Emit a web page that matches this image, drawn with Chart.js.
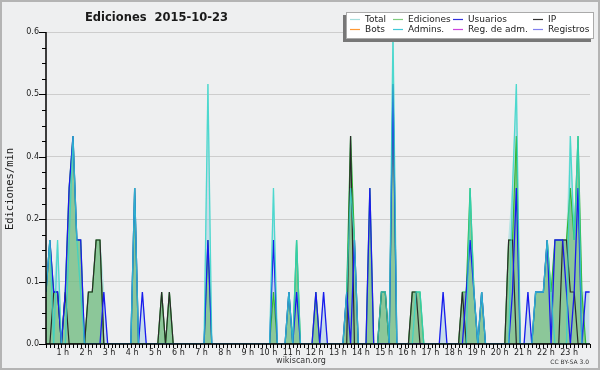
<!DOCTYPE html>
<html>
<head>
<meta charset="utf-8">
<title>Ediciones 2015-10-23</title>
<script src="https://cdn.jsdelivr.net/npm/chart.js"></script>
<style>
  html, body { margin: 0; padding: 0; background: #fff; }
  #chart { display: block; }
</style>
</head>
<body>
<canvas id="chart" width="600" height="370"></canvas>
<script>
// one value per 10 minute bin, edits per minute (bins 00:00 .. 23:30)
const total = [
  0.1, 0.2, 0.1, 0.2, 0, 0.1, 0.3, 0.4, 0.2, 0.2, 0, 0.1,
  0.1, 0.2, 0.2, 0.1, 0, 0, 0, 0, 0, 0, 0, 0.3,
  0, 0.1, 0, 0, 0, 0, 0.1, 0, 0.1, 0, 0, 0,
  0, 0, 0, 0, 0, 0, 0.5, 0, 0, 0, 0, 0,
  0, 0, 0, 0, 0, 0, 0, 0, 0, 0, 0, 0.3,
  0, 0, 0, 0.1, 0, 0.2, 0, 0, 0, 0, 0.1, 0,
  0.1, 0, 0, 0, 0, 0, 0.1, 0.4, 0.2, 0, 0, 0,
  0.3, 0, 0, 0.1, 0.1, 0, 0.6, 0, 0, 0, 0, 0.1,
  0.1, 0.1, 0, 0, 0, 0, 0, 0.1, 0, 0, 0, 0,
  0.1, 0.1, 0.3, 0.1, 0, 0.1, 0, 0, 0, 0, 0, 0,
  0.2, 0.3, 0.5, 0, 0, 0.1, 0, 0.1, 0.1, 0.1, 0.2, 0.1,
  0.2, 0.2, 0.2, 0.2, 0.4, 0.2, 0.4, 0.1, 0.1, 0.1
];
const ediciones = [
  0.1, 0.2, 0.1, 0.1, 0, 0.1, 0.3, 0.4, 0.2, 0.2, 0, 0.1,
  0.1, 0.2, 0.2, 0, 0, 0, 0, 0, 0, 0, 0, 0.3,
  0, 0, 0, 0, 0, 0, 0.1, 0, 0.1, 0, 0, 0,
  0, 0, 0, 0, 0, 0, 0.2, 0, 0, 0, 0, 0,
  0, 0, 0, 0, 0, 0, 0, 0, 0, 0, 0, 0.1,
  0, 0, 0, 0.1, 0, 0.2, 0, 0, 0, 0, 0.1, 0,
  0, 0, 0, 0, 0, 0, 0.1, 0.4, 0.2, 0, 0, 0,
  0.3, 0, 0, 0.1, 0.1, 0, 0.5, 0, 0, 0, 0, 0.1,
  0.1, 0.1, 0, 0, 0, 0, 0, 0, 0, 0, 0, 0,
  0.1, 0.1, 0.3, 0.1, 0, 0.1, 0, 0, 0, 0, 0, 0,
  0.2, 0.2, 0.4, 0, 0, 0, 0, 0.1, 0.1, 0.1, 0.2, 0.1,
  0.2, 0.2, 0.2, 0.2, 0.3, 0.2, 0.4, 0.1, 0, 0
];
const usuarios = [
  0.1, 0.2, 0.1, 0.1, 0, 0.1, 0.3, 0.4, 0.2, 0.2, 0, 0,
  0, 0, 0, 0.1, 0, 0, 0, 0, 0, 0, 0, 0.3,
  0, 0.1, 0, 0, 0, 0, 0, 0, 0, 0, 0, 0,
  0, 0, 0, 0, 0, 0, 0.2, 0, 0, 0, 0, 0,
  0, 0, 0, 0, 0, 0, 0, 0, 0, 0, 0, 0.2,
  0, 0, 0, 0.1, 0, 0.1, 0, 0, 0, 0, 0.1, 0,
  0.1, 0, 0, 0, 0, 0, 0.1, 0, 0.2, 0, 0, 0,
  0.3, 0, 0, 0, 0, 0, 0.5, 0, 0, 0, 0, 0,
  0, 0, 0, 0, 0, 0, 0, 0.1, 0, 0, 0, 0,
  0, 0.1, 0.2, 0.1, 0, 0.1, 0, 0, 0, 0, 0, 0,
  0, 0.1, 0.3, 0, 0, 0.1, 0, 0.1, 0.1, 0.1, 0.2, 0,
  0.2, 0.2, 0.2, 0.1, 0, 0.1, 0.3, 0, 0.1, 0.1
];
const ip = [
  0, 0, 0.1, 0.1, 0, 0.1, 0, 0, 0, 0, 0, 0.1,
  0.1, 0.2, 0.2, 0, 0, 0, 0, 0, 0, 0, 0, 0,
  0, 0, 0, 0, 0, 0, 0.1, 0, 0.1, 0, 0, 0,
  0, 0, 0, 0, 0, 0, 0, 0, 0, 0, 0, 0,
  0, 0, 0, 0, 0, 0, 0, 0, 0, 0, 0, 0,
  0, 0, 0, 0, 0, 0, 0, 0, 0, 0, 0, 0,
  0, 0, 0, 0, 0, 0, 0, 0.4, 0, 0, 0, 0,
  0, 0, 0, 0.1, 0.1, 0, 0, 0, 0, 0, 0, 0.1,
  0.1, 0, 0, 0, 0, 0, 0, 0, 0, 0, 0, 0,
  0.1, 0, 0, 0, 0, 0, 0, 0, 0, 0, 0, 0,
  0.2, 0.2, 0, 0, 0, 0, 0, 0, 0, 0, 0, 0,
  0, 0, 0.2, 0.2, 0.1, 0.1, 0, 0, 0, 0
];
const admins = [
  0.1, 0.2, 0, 0.2, 0, 0, 0.2, 0.4, 0.2, 0.1, 0, 0,
  0, 0, 0, 0, 0, 0, 0, 0, 0, 0, 0, 0.3,
  0, 0, 0, 0, 0, 0, 0, 0, 0, 0, 0, 0,
  0, 0, 0, 0, 0, 0, 0.5, 0, 0, 0, 0, 0,
  0, 0, 0, 0, 0, 0, 0, 0, 0, 0, 0, 0.3,
  0, 0, 0, 0.1, 0, 0.2, 0, 0, 0, 0, 0, 0,
  0, 0, 0, 0, 0, 0, 0.1, 0.3, 0.2, 0, 0, 0,
  0, 0, 0, 0.1, 0.1, 0, 0.6, 0, 0, 0, 0, 0,
  0.1, 0.1, 0, 0, 0, 0, 0, 0, 0, 0, 0, 0,
  0, 0, 0.3, 0.1, 0, 0.1, 0, 0, 0, 0, 0, 0,
  0, 0.3, 0.5, 0, 0, 0, 0, 0.1, 0.1, 0.1, 0.2, 0.1,
  0, 0, 0, 0, 0.4, 0.2, 0.4, 0, 0, 0
];
// nothing recorded for these on this day
const bots = [];
const regAdm = [];
const registros = [];

const seriesNames = ['Total', 'Ediciones', 'Usuarios', 'IP', 'Bots', 'Admins.', 'Reg. de adm.', 'Registros'];
const yTickLabels = ['0.0', '0.1', '0.2', '0.4', '0.5', '0.6'];
const hourLabels = ['1 h', '2 h', '3 h', '4 h', '5 h', '6 h', '7 h', '8 h', '9 h', '10 h', '11 h', '12 h',
  '13 h', '14 h', '15 h', '16 h', '17 h', '18 h', '19 h', '20 h', '21 h', '22 h', '23 h'];

const legendColors = ['#a6dedd', '#7fcc7f', '#3030dd', '#333333', '#ff9933', '#40c8d8', '#cc44dd', '#8080ee'];

const pts = arr => arr.map((v, i) => ({ x: i, y: v }));

// background, axes, tick marks, legend box and texts
const decor = {
  id: 'decor',
  beforeDraw(chart) {
    const c = chart.ctx;
    c.save();
    c.fillStyle = '#eeeff0';
    c.fillRect(0, 0, chart.width, chart.height);
    c.strokeStyle = '#b4b4b4';
    c.lineWidth = 2;
    c.strokeRect(1, 1, chart.width - 2, chart.height - 2);
    c.restore();
  },
  afterDraw(chart) {
    const c = chart.ctx;
    const a = chart.chartArea;
    const xs = chart.scales.x, ys = chart.scales.y;
    c.save();

    c.strokeStyle = '#000';
    c.lineWidth = 1.5;
    c.beginPath();
    c.moveTo(a.left, a.top);
    c.lineTo(a.left, a.bottom);
    c.lineTo(a.right, a.bottom);
    c.stroke();

    c.lineWidth = 1;
    c.beginPath();
    for (let k = 0; k <= 20; k++) {
      const py = Math.round(ys.getPixelForValue(k * 0.03)) + 0.5;
      const len = k % 4 === 0 ? 7 : 4;
      c.moveTo(a.left - len, py);
      c.lineTo(a.left, py);
    }
    for (let i = 0; i < total.length; i++) {
      const px = Math.round(xs.getPixelForValue(i)) + 0.5;
      c.moveTo(px, a.bottom);
      c.lineTo(px, a.bottom + 4);
    }
    c.stroke();

    // title
    c.fillStyle = '#1a1a1a';
    c.font = 'bold 11.5px "DejaVu Sans"';
    c.textAlign = 'left';
    c.textBaseline = 'alphabetic';
    c.fillText('Ediciones  2015-10-23', 85, 21);

    // axis title
    c.save();
    c.translate(10, 189);
    c.rotate(-Math.PI / 2);
    c.font = '10.5px "DejaVu Sans Mono"';
    c.textAlign = 'center';
    c.textBaseline = 'middle';
    c.fillText('Ediciones/min', 0, 0);
    c.restore();

    // footer
    c.fillStyle = '#333';
    c.font = '8px "DejaVu Sans"';
    c.textAlign = 'center';
    c.fillText('wikiscan.org', 301, 363);
    c.font = '6px "DejaVu Sans"';
    c.textAlign = 'right';
    c.fillText('CC BY-SA 3.0', 589, 364);

    // legend
    c.fillStyle = '#777';
    c.fillRect(343, 15, 248, 27);
    c.fillStyle = '#fff';
    c.fillRect(346, 12, 248, 26);
    c.strokeStyle = '#aaa';
    c.strokeRect(346.5, 12.5, 247, 26);
    const cols = [350, 393, 453, 533];
    const rows = [19.5, 29.5];
    c.font = '9px "DejaVu Sans"';
    c.textAlign = 'left';
    c.textBaseline = 'middle';
    c.lineWidth = 1.2;
    seriesNames.forEach((name, j) => {
      const sx = cols[j % 4], sy = rows[Math.floor(j / 4)];
      c.strokeStyle = legendColors[j];
      c.beginPath();
      c.moveTo(sx, sy);
      c.lineTo(sx + 10, sy);
      c.stroke();
      c.fillStyle = '#222';
      c.fillText(name, sx + 15, sy);
    });
    c.restore();
  }
};

const line = (label, data, color, width, order, extra) => Object.assign({
  label, data: pts(data), borderColor: color, borderWidth: width, order,
  pointRadius: 0, tension: 0, fill: false
}, extra || {});

new Chart(document.getElementById('chart'), {
  type: 'line',
  data: {
    datasets: [
      line('Total', total, '#b4e6e4', 1, 6, { fill: 'origin', backgroundColor: 'rgba(150,200,225,0.45)' }),
      line('Ediciones', ediciones, '#33b833', 1.2, 5, { fill: 'origin', backgroundColor: 'rgba(100,185,100,0.6)' }),
      line('IP', ip, '#2a2a2a', 1.2, 4),
      line('Usuarios', usuarios, '#1a1aee', 1.3, 3),
      line('Admins.', admins, 'rgba(50,212,200,0.8)', 1.3, 2)
    ]
  },
  options: {
    responsive: false,
    animation: false,
    devicePixelRatio: 1,
    layout: { padding: { top: 32, right: 10, left: 0, bottom: 0 } },
    plugins: { legend: { display: false }, tooltip: { enabled: false }, title: { display: false } },
    scales: {
      x: {
        type: 'linear', min: 0, max: 141.1,
        afterFit: s => { s.height = 26; },
        grid: { display: false, drawTicks: false },
        border: { display: false },
        ticks: {
          stepSize: 6, autoSkip: false, maxRotation: 0, align: 'end', padding: 4, includeBounds: false,
          color: '#222', font: { family: 'DejaVu Sans', size: 8 },
          callback: v => (v > 0 && v % 6 === 0 && hourLabels[v / 6 - 1]) || ''
        }
      },
      y: {
        min: 0, max: 0.6,
        afterFit: s => { s.width = 46; },
        grid: { color: '#cdcdcd', drawTicks: false },
        border: { display: false },
        ticks: {
          stepSize: 0.12, padding: 7,
          color: '#222', font: { family: 'DejaVu Sans', size: 8 },
          callback: (v, i) => yTickLabels[i]
        }
      }
    }
  },
  plugins: [decor]
});
</script>
</body>
</html>
